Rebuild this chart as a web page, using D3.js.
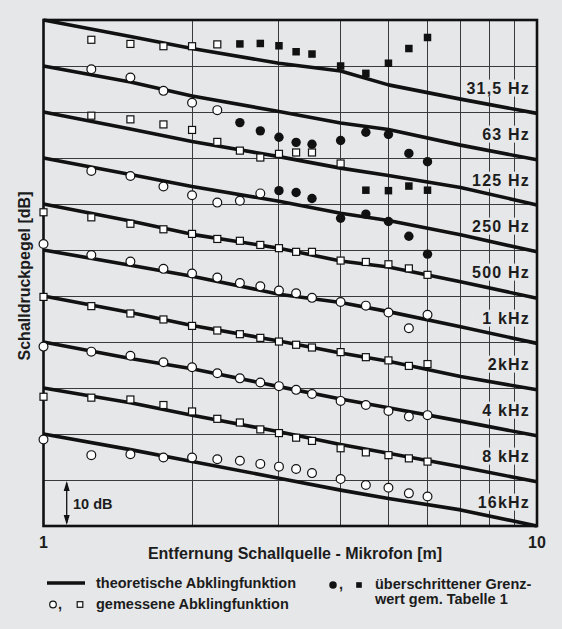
<!DOCTYPE html>
<html>
<head>
<meta charset="utf-8">
<script src="https://cdn.jsdelivr.net/npm/d3@7/dist/d3.min.js"></script>
<style>
  html, body { margin: 0; padding: 0; background: #e5e7e9; }
  svg { display: block; font-family: "Liberation Sans", Arial, sans-serif; font-weight: bold; }
</style>
</head>
<body>
<script>
// frequency bands, top to bottom
const bands = ['31,5 Hz', '63 Hz', '125 Hz', '250 Hz', '500 Hz', '1 kHz', '2kHz', '4 kHz', '8 kHz', '16kHz'];

// theoretical decay, level [dB] at these distances [m]
const theoryDist = [1, 1.5, 2, 3, 4, 5, 7, 10];
const th31 = [110, 106.4, 103.8, 100.6, 98.9, 95.9, 92.8, 89.7];
const th63 = [100, 96.5, 93.5, 90.1, 87.6, 86.2, 82.8, 79.6];
const th125 = [90, 86.3, 83.6, 80.3, 77.8, 76.2, 73.6, 69.8];
const th250 = [80, 76.4, 73.8, 70.6, 68.0, 66.4, 63.3, 59.6];
const th500 = [70, 66.3, 63.4, 60.4, 57.6, 56.3, 53.1, 49.5];
const th1k = [60, 56.7, 54.3, 50.4, 48.6, 46.6, 43.3, 39.7];
const th2k = [50, 46.4, 43.6, 40.2, 37.6, 35.8, 32.5, 29.6];
const th4k = [40, 36.4, 34.2, 30.3, 27.6, 25.7, 22.8, 19.6];
const th8k = [30, 26.8, 24.1, 20.5, 17.7, 15.8, 12.9, 9.6];
const th16k = [20, 16.6, 14.0, 10.4, 7.8, 6.0, 3.5, 0];

// measured decay, level [dB] at the microphone distances [m]
const measDist = [1, 1.25, 1.5, 1.75, 2, 2.25, 2.5, 2.75, 3, 3.25, 3.5, 4, 4.5, 5, 5.5, 6];
const m31 = [null, 105.7, 104.8, 104.3, 104.3, 104.7, 104.8, 104.9, 104.4, 103.1, 102.6, 100.0, 98.4, 100.6, 103.8, 106.2];
const m63 = [null, 99.3, 97.5, 94.6, 92.0, 90.4, 87.7, 85.9, 84.5, 83.4, 83.0, 83.8, 85.6, 85.1, 81.0, 79.2];
const m125 = [null, 89.2, 88.4, 87.3, 86.1, 83.5, 81.6, 80.1, 80.9, 81.2, 81.2, 78.8, 73.0, 72.9, 73.9, 73.0];
const m250 = [null, 77.2, 76.1, 73.8, 71.9, 70.3, 70.7, 72.3, 72.9, 72.5, 71.2, 66.9, 67.8, 66.2, 63.0, 59.1];
const m500 = [68.2, 67.1, 65.7, 64.5, 63.5, 62.4, 62.0, 61.1, 60.4, 59.6, 59.6, 57.7, 57.4, 56.9, 56.0, 54.6];
const m1k = [61.3, 58.9, 57.5, 55.9, 54.9, 54.0, 52.8, 52.1, 51.2, 50.6, 49.6, 48.7, 47.9, 46.4, 43.0, 45.9];
const m2k = [49.8, 47.8, 46.2, 44.9, 43.5, 42.5, 41.7, 40.9, 40.1, 39.4, 38.8, 37.8, 36.7, 36.0, 34.8, 35.2];
const m4k = [39.0, 37.9, 37.0, 35.6, 34.5, 33.2, 32.1, 31.2, 30.4, 29.6, 28.7, 27.2, 26.3, 25.0, 23.8, 24.1];
const m8k = [28.1, 27.9, 27.5, 26.3, 24.9, 23.3, 22.5, 21.0, 20.2, 19.2, 18.5, 16.9, 16.0, 15.4, 14.7, 14.0];
const m16k = [18.8, 15.4, 15.6, 14.9, 14.9, 14.5, 14.2, 13.5, 12.9, 12.4, 11.5, 10.2, 8.9, 8.3, 7.1, 6.4];

// limit (Tabelle 1) exceeded from this distance on, per band
const exceedFrom = [2.5, 2.5, 4.5, 3, null, null, null, null, null, null];

const theory = [th31, th63, th125, th250, th500, th1k, th2k, th4k, th8k, th16k];
const measured = [m31, m63, m125, m250, m500, m1k, m2k, m4k, m8k, m16k];

const W = 562, H = 629;
const BG = '#e5e7e9';

const svg = d3.select('body').append('svg').attr('width', W).attr('height', H);
svg.append('rect').attr('width', W).attr('height', H).attr('fill', BG);

const x = d3.scaleLog().domain([1, 10]).range([43.5, 537]);
const y = d3.scaleLinear().domain([0, 110]).range([526, 20]);

// grid
const grid = svg.append('g').attr('stroke', '#3a3a3a').attr('stroke-width', 1)
    .attr('shape-rendering', 'crispEdges');
grid.selectAll('line.vx')
    .data(x.ticks().filter(d => d > 1 && d < 10))
    .join('line')
    .attr('x1', d => x(d)).attr('x2', d => x(d))
    .attr('y1', y(0)).attr('y2', y(110));
grid.selectAll('line.hy')
    .data(y.ticks(11).filter(d => d > 0 && d < 110))
    .join('line')
    .attr('x1', x(1)).attr('x2', x(10))
    .attr('y1', d => y(d)).attr('y2', d => y(d));

// band labels with a patch of background behind them
const labels = svg.append('g');
bands.forEach(function (b, i) {
    const t = labels.append('text')
        .attr('x', 530).attr('y', y(94 - 10 * i))
        .attr('text-anchor', 'end')
        .attr('font-size', 16).attr('letter-spacing', 1.2)
        .attr('fill', '#1c1c1c')
        .text(b);
    const bb = t.node().getBBox();
    labels.insert('rect', () => t.node())
        .attr('x', bb.x - 3).attr('y', bb.y)
        .attr('width', bb.width + 4).attr('height', bb.height)
        .attr('fill', BG);
});

// frame
svg.append('rect')
    .attr('x', x(1)).attr('y', y(110))
    .attr('width', x(10) - x(1)).attr('height', y(0) - y(110))
    .attr('fill', 'none').attr('stroke', '#111').attr('stroke-width', 2.6);

// 10 dB scale marker
const ax = 66.7;
svg.append('line').attr('x1', ax).attr('x2', ax)
    .attr('y1', y(10) + 3).attr('y2', y(0) - 3)
    .attr('stroke', '#111').attr('stroke-width', 1.3);
svg.append('path')
    .attr('d', `M${ax - 3},${y(10) + 11}L${ax},${y(10) + 1}L${ax + 3},${y(10) + 11}Z` +
        `M${ax - 3},${y(0) - 11}L${ax},${y(0) - 1}L${ax + 3},${y(0) - 11}Z`)
    .attr('fill', '#111');
svg.append('text').attr('x', 73).attr('y', 509)
    .attr('font-size', 14.5).attr('fill', '#1c1c1c').text('10 dB');

// theoretical decay lines
const line = d3.line()
    .x((d, i) => x(theoryDist[i]))
    .y(d => y(d));
svg.append('g').selectAll('path')
    .data(theory)
    .join('path')
    .attr('d', line)
    .attr('fill', 'none').attr('stroke', '#111')
    .attr('stroke-width', 3.6).attr('stroke-linejoin', 'round');

function marker(g, shape, cx, cy, filled, s) {
    if (shape === 'square') {
        const a = filled ? 7.5 * s : 7 * s;
        g.append('rect')
            .attr('x', cx - a / 2).attr('y', cy - a / 2)
            .attr('width', a).attr('height', a)
            .attr('fill', filled ? '#111' : '#fff')
            .attr('stroke', '#111').attr('stroke-width', filled ? 0 : 1.2);
    } else {
        g.append('circle')
            .attr('cx', cx).attr('cy', cy).attr('r', (filled ? 4.7 : 4.4) * s)
            .attr('fill', filled ? '#111' : '#fff')
            .attr('stroke', '#111').attr('stroke-width', filled ? 0 : 1.2);
    }
}

// measured points: squares and circles alternate band by band
const pts = svg.append('g');
measured.forEach(function (vals, i) {
    const shape = i % 2 === 0 ? 'square' : 'circle';
    vals.forEach(function (v, j) {
        if (v === null) return;
        const d = measDist[j];
        const filled = exceedFrom[i] !== null && d >= exceedFrom[i];
        marker(pts, shape, x(d), y(v), filled, 1);
    });
});

// axis numbers and titles
svg.append('text').attr('x', x(1)).attr('y', 548).attr('text-anchor', 'middle')
    .attr('font-size', 16).attr('fill', '#1c1c1c').text('1');
svg.append('text').attr('x', x(10)).attr('y', 548).attr('text-anchor', 'middle')
    .attr('font-size', 16).attr('fill', '#1c1c1c').text('10');
svg.append('text').attr('x', 295).attr('y', 559).attr('text-anchor', 'middle')
    .attr('font-size', 16).attr('fill', '#1c1c1c').text('Entfernung Schallquelle - Mikrofon [m]');
svg.append('text').attr('transform', 'translate(30,276) rotate(-90)')
    .attr('text-anchor', 'middle')
    .attr('font-size', 16).attr('fill', '#1c1c1c').text('Schalldruckpegel [dB]');

// legend
const lg = svg.append('g').attr('font-size', 14.5).attr('fill', '#1c1c1c');
lg.append('line').attr('x1', 47).attr('x2', 85).attr('y1', 583).attr('y2', 583)
    .attr('stroke', '#111').attr('stroke-width', 3.5);
lg.append('text').attr('x', 96).attr('y', 588).text('theoretische Abklingfunktion');
marker(lg, 'circle', 53, 604.5, false, 0.75);
lg.append('text').attr('x', 58).attr('y', 609).text(',');
marker(lg, 'square', 80, 604.5, false, 0.8);
lg.append('text').attr('x', 96).attr('y', 609).text('gemessene Abklingfunktion');
marker(lg, 'circle', 333, 585, true, 0.8);
lg.append('text').attr('x', 339).attr('y', 589).text(',');
marker(lg, 'square', 359, 585, true, 0.75);
lg.append('text').attr('x', 375).attr('y', 589).text('überschrittener Grenz-');
lg.append('text').attr('x', 375).attr('y', 604).text('wert gem. Tabelle 1');
</script>
</body>
</html>
